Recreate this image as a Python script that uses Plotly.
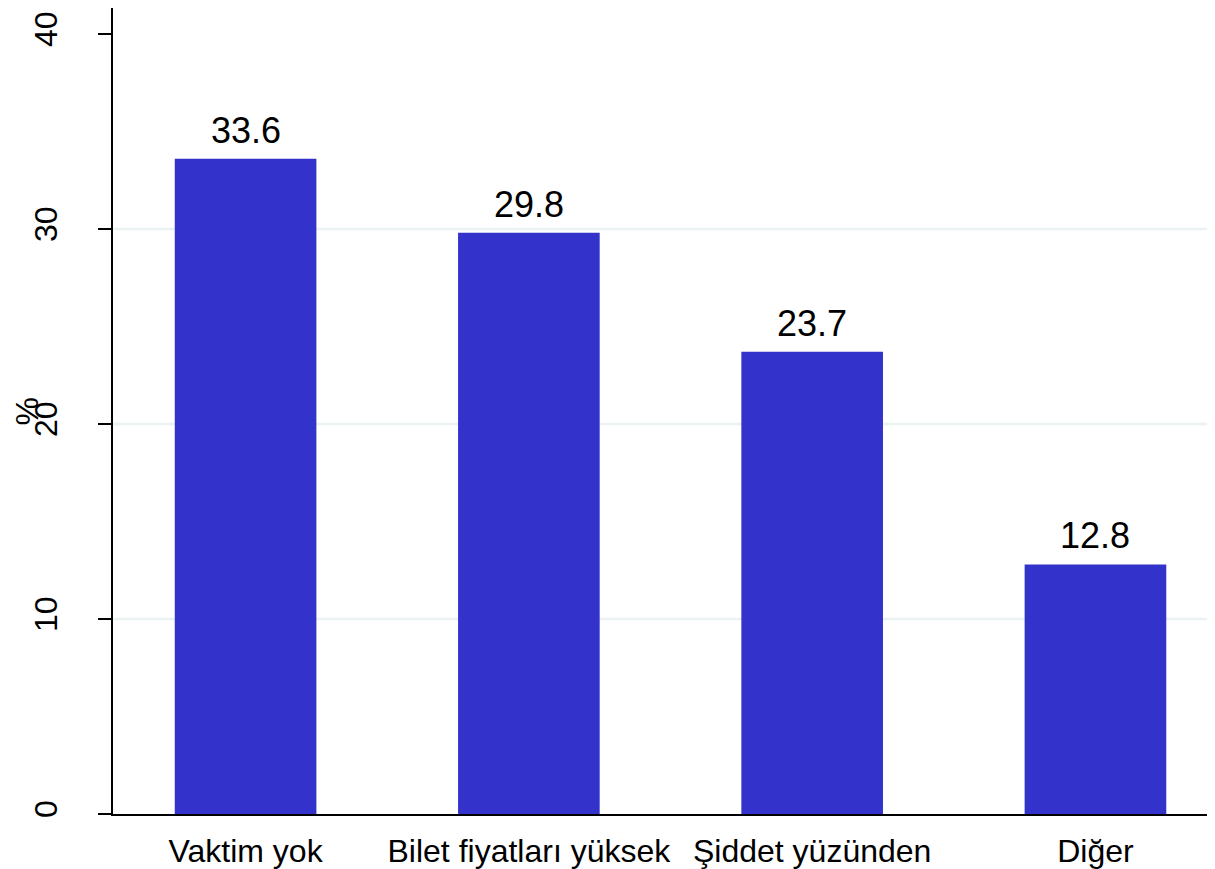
import plotly.graph_objects as go

categories = ['Vaktim yok', 'Bilet fiyatları yüksek', 'Şiddet yüzünden', 'Diğer']
values = [33.6, 29.8, 23.7, 12.8]
y_ticks = [0, 10, 20, 30, 40]
grid_lines = [10, 20, 30]

FONT = 'Liberation Sans, Arial, sans-serif'

fig = go.Figure()
fig.add_trace(go.Bar(
    x=list(range(len(categories))),
    y=values,
    width=0.5,
    marker=dict(color='#3333CC', line=dict(width=0)),
))

# value labels above the bars
for i, v in enumerate(values):
    fig.add_annotation(x=i, y=v, text=f'{v:.1f}', showarrow=False,
                       yanchor='bottom', yshift=6,
                       font=dict(size=36, color='black', family=FONT))

# light grid only at the inner ticks
for g in grid_lines:
    fig.add_shape(type='line', xref='paper', x0=0, x1=1, yref='y', y0=g, y1=g,
                  line=dict(color='#EAF2F3', width=2.5), layer='below')

# y title sits over the middle tick label, as in the original
fig.add_annotation(xref='paper', yref='paper', x=-0.0776, y=0.5, text='%',
                   textangle=-90, showarrow=False, xanchor='center', yanchor='middle',
                   font=dict(size=32, color='black', family=FONT))

fig.update_xaxes(
    range=[-0.468, 3.422],
    tickvals=list(range(len(categories))),
    ticktext=categories,
    tickfont=dict(size=32, color='black', family=FONT),
    showline=True, linecolor='black', linewidth=1.5,
    showgrid=False, zeroline=False,
    ticks='', ticklabelstandoff=8,
)
fig.update_yaxes(
    range=[0, 41.33],
    tickvals=y_ticks,
    tickangle=-90,
    tickfont=dict(size=32, color='black', family=FONT),
    showline=True, linecolor='black', linewidth=1.5,
    ticks='outside', ticklen=13, tickwidth=1.5, tickcolor='black',
    ticklabelstandoff=28,
    showgrid=False, zeroline=False,
)

fig.update_layout(
    width=1207, height=861,
    margin=dict(l=105, r=0, t=0, b=51),
    plot_bgcolor='white', paper_bgcolor='white',
    showlegend=False,
)

fig.write_html("out.html")
